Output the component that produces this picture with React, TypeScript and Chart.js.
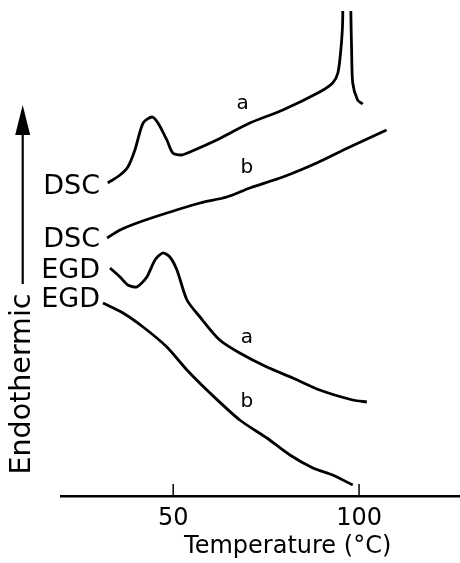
import React, { useEffect, useRef } from 'react';
import { Chart, registerables } from 'chart.js';

Chart.register(...registerables);

const FONT = '"DejaVu Sans", sans-serif';

// Temperature (°C) and signal (arbitrary units)
const dscA_T = [32.4, 35.7, 37.8, 39.7, 41.9, 44.3, 45.9, 48.3, 49.9, 52.3, 54.5, 61.7, 70.6, 79.5, 89.4, 92.9, 94.3, 95.1, 95.6, 95.9, 97.5, 97.8, 98.0, 98.3, 99.6, 101.0];
const dscA_V = [62.6, 64.2, 65.8, 69.2, 74.6, 75.8, 74.6, 71.2, 68.6, 68.2, 68.8, 71.2, 74.6, 77.2, 80.8, 82.6, 84.6, 89.2, 95.2, 125, 125, 96.6, 89.2, 82.6, 79.2, 78.4];

const dscB_T = [32.2, 35.7, 41.0, 48.3, 57.2, 64.4, 70.6, 79.5, 88.6, 97.5, 107.4];
const dscB_V = [51.6, 53.2, 54.8, 56.6, 58.6, 59.8, 61.6, 63.8, 66.6, 69.8, 73.2];

const egdA_T = [33.0, 35.7, 37.8, 40.2, 42.9, 45.1, 47.2, 49.1, 51.0, 53.7, 57.2, 62.5, 67.9, 75.2, 82.2, 89.4, 98.3, 102.1];
const egdA_V = [45.6, 43.8, 42.2, 41.8, 43.8, 47.2, 48.6, 47.8, 45.2, 39.2, 35.8, 31.2, 28.6, 25.8, 23.6, 21.2, 19.2, 18.8];

const egdB_T = [31.1, 36.5, 41.9, 48.3, 53.7, 59.9, 67.9, 75.2, 81.4, 87.6, 92.9, 98.3];
const egdB_V = [38.6, 36.6, 33.8, 29.8, 25.2, 20.6, 15.2, 11.6, 8.2, 5.6, 4.2, 2.2];

const xTicks = [50, 100];
const xTitle = 'Temperature (°C)';
const xTitleT = 80.8;
const yTitle = 'Endothermic';

const tagText = ['DSC', 'DSC', 'EGD', 'EGD'];
const tagT = [30.3, 30.3, 30.3, 30.3];
const tagV = [61.8, 51.2, 45.0, 39.2];

const letterText = ['a', 'b', 'a', 'b'];
const letterT = [68.7, 69.8, 69.8, 69.8];
const letterV = [78.4, 65.6, 31.6, 18.8];

const toPts = (t: number[], v: number[]) => t.map((x, i) => ({ x, y: v[i] }));

const annotPlugin = {
  id: 'annot',
  afterDraw(chart: any) {
    const ctx = chart.ctx;
    const xs = chart.scales.x;
    const ys = chart.scales.y;
    const ca = chart.chartArea;
    ctx.save();
    ctx.strokeStyle = '#000';
    ctx.fillStyle = '#000';
    // inward tick marks
    ctx.lineWidth = 1.5;
    xTicks.forEach((v) => {
      const px = xs.getPixelForValue(v);
      ctx.beginPath();
      ctx.moveTo(px, ca.bottom);
      ctx.lineTo(px, ca.bottom - 12);
      ctx.stroke();
    });
    // x title
    ctx.font = `24px ${FONT}`;
    ctx.textAlign = 'center';
    ctx.textBaseline = 'middle';
    ctx.fillText(xTitle, xs.getPixelForValue(xTitleT), ca.bottom + 51);
    // y arrow
    const ax = ca.left - 39;
    ctx.lineWidth = 2.2;
    ctx.beginPath();
    ctx.moveTo(ax, 284);
    ctx.lineTo(ax, 128);
    ctx.stroke();
    ctx.beginPath();
    ctx.moveTo(ax, 105);
    ctx.lineTo(ax - 7.5, 135);
    ctx.lineTo(ax + 7.5, 135);
    ctx.closePath();
    ctx.fill();
    // y title
    ctx.save();
    ctx.translate(ax, 384);
    ctx.rotate(-Math.PI / 2);
    ctx.font = `28.5px ${FONT}`;
    ctx.textAlign = 'center';
    ctx.textBaseline = 'middle';
    ctx.fillText(yTitle, 0, 0);
    ctx.restore();
    // curve tags
    ctx.font = `27px ${FONT}`;
    ctx.textAlign = 'right';
    ctx.textBaseline = 'middle';
    tagText.forEach((s, i) => {
      ctx.fillText(s, xs.getPixelForValue(tagT[i]), ys.getPixelForValue(tagV[i]));
    });
    ctx.font = `20px ${FONT}`;
    ctx.textAlign = 'center';
    letterText.forEach((s, i) => {
      ctx.fillText(s, xs.getPixelForValue(letterT[i]), ys.getPixelForValue(letterV[i]));
    });
    ctx.restore();
  },
};

export default function App() {
  const ref = useRef<HTMLCanvasElement>(null);
  useEffect(() => {
    if (!ref.current) return;
    const mk = (t: number[], v: number[]) => ({
      data: toPts(t, v),
      borderColor: '#000',
      borderWidth: 2.8,
      pointRadius: 0,
      tension: 0.25,
      fill: false,
    });
    const chart = new Chart(ref.current, {
      type: 'line',
      data: {
        datasets: [mk(dscA_T, dscA_V), mk(dscB_T, dscB_V), mk(egdA_T, egdA_V), mk(egdB_T, egdB_V)],
      },
      options: {
        animation: false,
        responsive: true,
        maintainAspectRatio: false,
        layout: { padding: { left: 61.7, right: 0.6, top: 11, bottom: 0 } },
        plugins: { legend: { display: false }, tooltip: { enabled: false } },
        scales: {
          x: {
            type: 'linear',
            min: 20,
            max: 127,
            afterBuildTicks: (s: any) => {
              s.ticks = xTicks.map((v) => ({ value: v }));
            },
            afterFit: (s: any) => {
              s.height = 67;
            },
            grid: { display: false, drawTicks: false },
            border: { display: true, color: '#000', width: 2.5 },
            ticks: {
              color: '#000',
              padding: 8,
              font: { family: FONT, size: 24 },
              callback: (v: any) => String(v),
            },
          },
          y: { type: 'linear', min: 0, max: 97, display: false },
        },
      },
      plugins: [annotPlugin],
    } as any);
    return () => chart.destroy();
  }, []);
  return (
    <div style={{ position: 'absolute', left: 0, top: 0, width: 460, height: 563, background: '#fff' }}>
      <canvas ref={ref} />
    </div>
  );
}
